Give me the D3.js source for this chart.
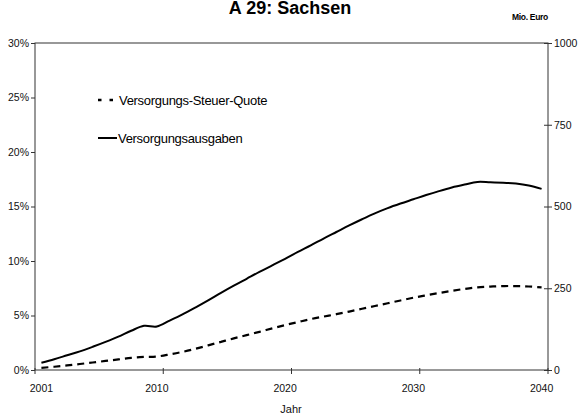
<!DOCTYPE html>
<html>
<head>
<meta charset="utf-8">
<script src="https://cdn.jsdelivr.net/npm/d3@7/dist/d3.min.js"></script>
<style>
  html, body { margin: 0; padding: 0; background: #fff; }
  svg { display: block; font-family: "Liberation Sans", Arial, sans-serif; }
</style>
</head>
<body>
<svg id="chart" width="579" height="414"></svg>
<script>
// Years on the category axis
const years = d3.range(2001, 2041);
// Versorgungs-Steuer-Quote in % (left axis)
const quote = [0.20, 0.30, 0.42, 0.55, 0.69, 0.83, 0.97, 1.12, 1.20, 1.24,
               1.43, 1.66, 1.94, 2.26, 2.58, 2.90, 3.20, 3.50, 3.82, 4.12,
               4.40, 4.67, 4.90, 5.12, 5.36, 5.62, 5.87, 6.12, 6.38, 6.63,
               6.85, 7.06, 7.26, 7.44, 7.58, 7.65, 7.70, 7.70, 7.66, 7.58];
// Versorgungsausgaben in Mio. Euro (right axis)
const ausgaben = [22, 33, 45, 57, 71, 86, 102, 120, 135, 133,
                  151, 170, 191, 213, 236, 258, 279, 300, 320, 340,
                  361, 381, 402, 422, 442, 461, 479, 495, 509, 522,
                  535, 547, 558, 567, 575, 574, 573, 570, 564, 554];
const xLabelYears = [2001, 2010, 2020, 2030, 2040];
const leftTicks = [0, 5, 10, 15, 20, 25, 30];
const rightTicks = [0, 250, 500, 750, 1000];

const svg = d3.select("#chart");
const plotLeft = 35, plotRight = 548, plotTop = 43, plotBottom = 370;
const axisColor = "#333";

const x = d3.scaleBand().domain(years).range([plotLeft, plotRight]).padding(0);
const cx = d => x(d) + x.bandwidth() / 2;
const yL = d3.scaleLinear().domain([0, 30]).range([plotBottom, plotTop]);
const yR = d3.scaleLinear().domain([0, 1000]).range([plotBottom, plotTop]);

// Title and unit
svg.append("text").attr("x", 290).attr("y", 14).attr("text-anchor", "middle")
  .attr("font-weight", "bold").attr("font-size", 18).text("A 29: Sachsen");
svg.append("text").attr("x", 548).attr("y", 20).attr("text-anchor", "end")
  .attr("font-weight", "bold").attr("font-size", 8.5).attr("letter-spacing", -0.3).text("Mio. Euro");

// Plot frame
svg.append("rect").attr("x", plotLeft).attr("y", plotTop)
  .attr("width", plotRight - plotLeft).attr("height", plotBottom - plotTop)
  .attr("fill", "none").attr("stroke", axisColor).attr("stroke-width", 1);

// Left axis (%)
const gL = svg.append("g").attr("transform", `translate(${plotLeft},0)`)
  .call(d3.axisLeft(yL).tickValues(leftTicks).tickSize(4).tickPadding(2).tickFormat(d => d + "%"));
gL.select(".domain").remove();
gL.selectAll("line").attr("stroke", axisColor);
gL.selectAll("text").attr("font-size", 10.5).attr("font-family", "Liberation Sans, Arial, sans-serif").attr("fill", "#111");

// Right axis (Mio. Euro), ticks crossing the axis line
const gR = svg.append("g").attr("transform", `translate(${plotRight},0)`)
  .call(d3.axisRight(yR).tickValues(rightTicks).tickSize(4).tickPadding(2).tickFormat(d3.format("d")));
gR.select(".domain").remove();
gR.selectAll("line").attr("x1", -4).attr("stroke", axisColor);
gR.selectAll("text").attr("font-size", 10.5).attr("font-family", "Liberation Sans, Arial, sans-serif").attr("fill", "#111");

// Category axis: tick marks on category boundaries, labels at category centres
const tickPos = [x(2001)].concat([2010, 2020, 2030, 2040].map(d => x(d) + x.bandwidth()));
svg.append("g").selectAll("line").data(tickPos).join("line")
  .attr("x1", d => d).attr("x2", d => d).attr("y1", plotBottom - 2).attr("y2", plotBottom + 4)
  .attr("stroke", axisColor);
svg.append("g").selectAll("text").data(xLabelYears).join("text")
  .attr("x", d => cx(d)).attr("y", plotBottom + 22).attr("text-anchor", "middle")
  .attr("font-size", 10.5).attr("fill", "#111").text(d => d);
svg.append("text").attr("x", 291).attr("y", 413).attr("text-anchor", "middle")
  .attr("font-size", 11).attr("fill", "#111").text("Jahr");

// Series lines
const lineQ = d3.line().x((d, i) => cx(years[i])).y(d => yL(d)).curve(d3.curveCatmullRom.alpha(0.5));
const lineA = d3.line().x((d, i) => cx(years[i])).y(d => yR(d)).curve(d3.curveCatmullRom.alpha(0.5));

svg.append("path").datum(quote).attr("d", lineQ)
  .attr("fill", "none").attr("stroke", "#000").attr("stroke-width", 2.2)
  .attr("stroke-dasharray", "7,5");
svg.append("path").datum(ausgaben).attr("d", lineA)
  .attr("fill", "none").attr("stroke", "#000").attr("stroke-width", 2);

// Legend
const legend = svg.append("g");
legend.append("line").attr("x1", 98).attr("x2", 113).attr("y1", 100).attr("y2", 100)
  .attr("stroke", "#000").attr("stroke-width", 2.5).attr("stroke-dasharray", "3.5,8");
legend.append("text").attr("x", 119).attr("y", 104.5).attr("font-size", 13)
  .attr("letter-spacing", -0.3).text("Versorgungs-Steuer-Quote");
legend.append("line").attr("x1", 98).attr("x2", 117).attr("y1", 138).attr("y2", 138)
  .attr("stroke", "#000").attr("stroke-width", 2);
legend.append("text").attr("x", 118).attr("y", 142.5).attr("font-size", 13)
  .attr("letter-spacing", -0.3).text("Versorgungsausgaben");
</script>
</body>
</html>
